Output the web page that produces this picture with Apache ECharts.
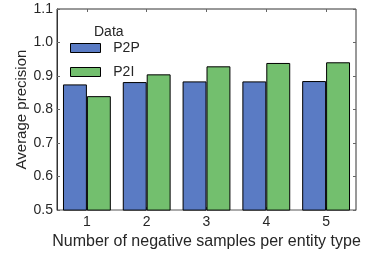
<!DOCTYPE html>
<html>
<head>
<meta charset="utf-8">
<script src="https://cdn.jsdelivr.net/npm/echarts@6/dist/echarts.min.js"></script>
<style>
  html, body { margin: 0; padding: 0; background: #fff; }
  #chart { width: 366px; height: 255px; }
</style>
</head>
<body>
<div id="chart"></div>
<script>
// data
const categories = ['1', '2', '3', '4', '5']
const p2pValues = [0.875, 0.882, 0.884, 0.884, 0.885]
const p2iValues = [0.840, 0.905, 0.929, 0.939, 0.941]
const yTicks = [0.5, 0.6, 0.7, 0.8, 0.9, 1.0, 1.1]

const font = 'Liberation Sans, Arial, sans-serif'
const chart = echarts.init(document.getElementById('chart'))

const option = {
  animation: false,
  textStyle: { fontFamily: font },
  title: {
    text: 'Data',
    left: 89,
    top: 20,
    textStyle: { fontSize: 14, fontWeight: 'normal', color: '#262626', fontFamily: font }
  },
  legend: {
    orient: 'vertical',
    left: 70,
    top: 41,
    padding: 0,
    icon: 'rect',
    itemWidth: 30,
    itemHeight: 9,
    itemGap: 10,
    itemStyle: { borderColor: '#000', borderWidth: 1 },
    textStyle: { fontSize: 14, color: '#262626', fontFamily: font },
    formatter: name => '  ' + name,
    data: ['P2P', 'P2I']
  },
  grid: {
    left: 57,
    right: 10,
    top: 9,
    bottom: 41,
    show: true,
    borderColor: '#333',
    borderWidth: 1
  },
  xAxis: [
    {
      type: 'category',
      data: categories,
      name: 'Number of negative samples per entity type',
      nameLocation: 'middle',
      nameGap: 23,
      nameTextStyle: { fontSize: 16, color: '#262626', fontFamily: font },
      axisLine: { lineStyle: { color: '#aaa' } },
      axisTick: { show: true, alignWithLabel: true, inside: true, length: 3, lineStyle: { color: '#666' } },
      axisLabel: { fontSize: 14, color: '#262626', margin: 5 },
      splitLine: { show: false }
    },
    {
      type: 'category',
      data: categories,
      position: 'top',
      axisLine: { show: false },
      axisTick: { show: true, alignWithLabel: true, inside: true, length: 3, lineStyle: { color: '#666' } },
      axisLabel: { show: false }
    }
  ],
  yAxis: [
    {
      type: 'value',
      min: yTicks[0],
      max: yTicks[yTicks.length - 1],
      interval: 0.1,
      name: 'Average precision',
      nameLocation: 'middle',
      nameGap: 28,
      nameMoveOverlap: false,
      nameTextStyle: { fontSize: 15, color: '#262626', fontFamily: font },
      axisLine: { show: true, lineStyle: { color: '#333' } },
      axisTick: { show: true, inside: true, length: 3, lineStyle: { color: '#666' } },
      axisLabel: { fontSize: 14, color: '#262626', margin: 4, formatter: v => v.toFixed(1) },
      splitLine: { show: false }
    },
    {
      type: 'value',
      min: yTicks[0],
      max: yTicks[yTicks.length - 1],
      interval: 0.1,
      position: 'right',
      axisLine: { show: false },
      axisTick: { show: true, inside: true, length: 3, lineStyle: { color: '#666' } },
      axisLabel: { show: false },
      splitLine: { show: false }
    }
  ],
  series: [
    {
      name: 'P2P',
      type: 'bar',
      data: p2pValues,
      barGap: '0%',
      barCategoryGap: '20%',
      itemStyle: { color: '#5a7bc4', borderColor: '#000', borderWidth: 1 }
    },
    {
      name: 'P2I',
      type: 'bar',
      data: p2iValues,
      barGap: '0%',
      barCategoryGap: '20%',
      itemStyle: { color: '#73bf6e', borderColor: '#000', borderWidth: 1 }
    }
  ]
}

chart.setOption(option)
</script>
</body>
</html>
